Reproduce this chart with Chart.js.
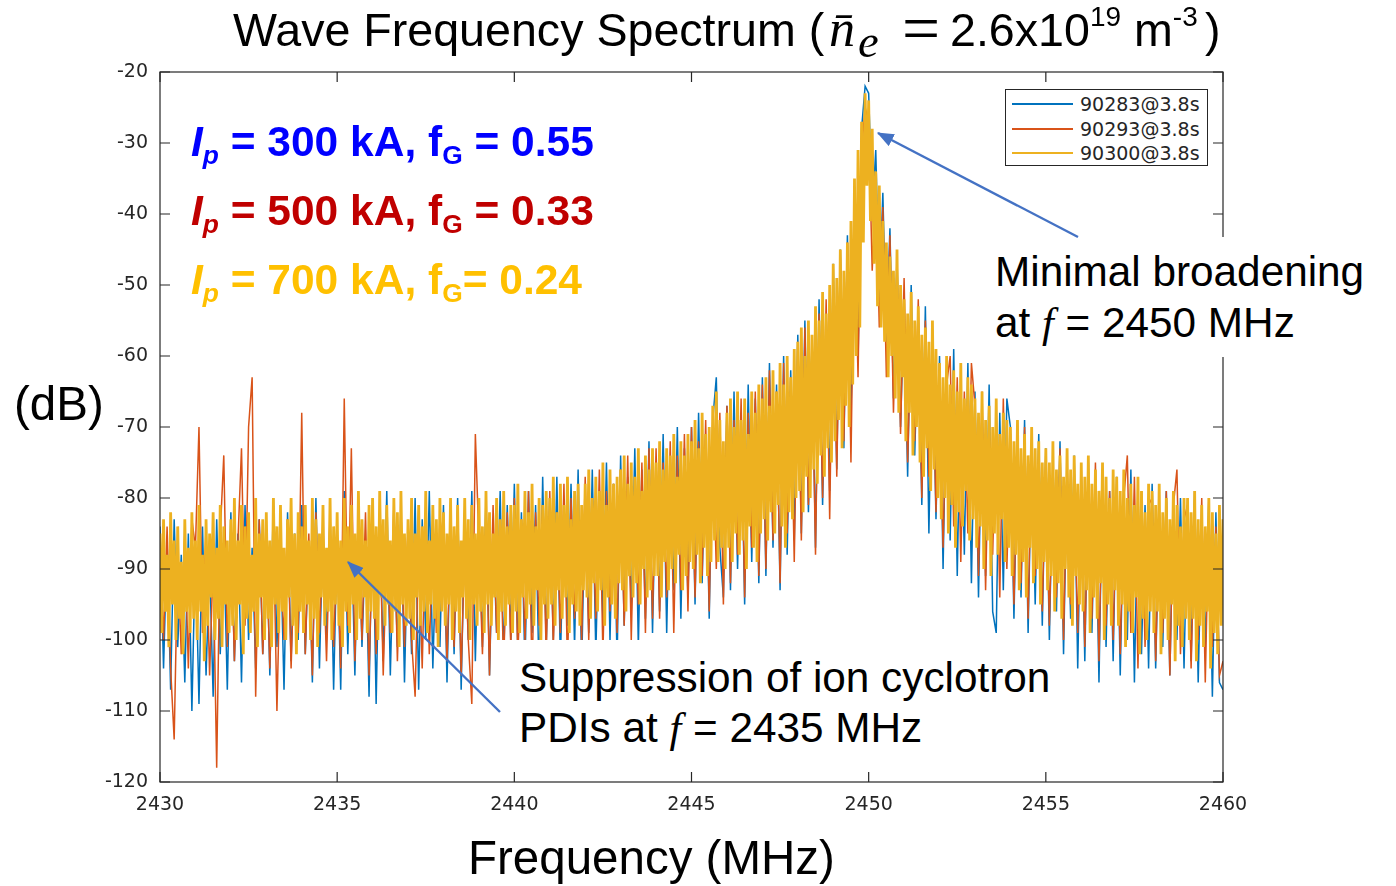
<!DOCTYPE html>
<html><head><meta charset="utf-8">
<script src="https://cdn.jsdelivr.net/npm/chart.js@4.4.1/dist/chart.umd.min.js"></script>
<style>
html,body{margin:0;padding:0;background:#fff;}
#wrap{position:relative;width:1396px;height:886px;overflow:hidden;font-family:"Liberation Sans",Arial,sans-serif;}
#c{position:absolute;left:0;top:0;}
.t{position:absolute;white-space:nowrap;line-height:1;color:#000;}
.t sub,.t sup,.lh0{line-height:0;}
.ttl{font-size:46.6px;top:7px;}
.ttl sup{font-size:0.6em;vertical-align:0.72em;}
.ann{font-size:42.3px;}
.ip{font-size:42.5px;font-weight:bold;}
.ip sub{font-size:0.62em;vertical-align:-0.3em;}
.serif{font-family:"Liberation Serif","DejaVu Serif",serif;font-style:italic;}
.box{position:absolute;background:#fff;}
#legend{position:absolute;left:1005px;top:89px;width:201px;height:75px;border:1px solid #262626;background:#fff;font-family:"DejaVu Sans",sans-serif;font-size:19px;color:#262626;}
.row{position:absolute;left:0;height:24px;width:200px;}
.row .ln{position:absolute;left:6px;top:11px;width:61px;height:2px;}
.row .lb{position:absolute;left:74px;top:1px;line-height:22px;}
</style></head>
<body><div id="wrap">
<canvas id="c" width="1396" height="886"></canvas>

<div class="box" style="left:985px;top:237px;width:390px;height:120px;"></div>
<div class="box" style="left:500px;top:640px;width:562px;height:118px;"></div>

<div class="t ttl" style="left:233px;">Wave Frequency Spectrum (</div>
<div class="t ttl" style="left:829px;"><span class="serif lh0" style="font-size:1.12em;">n̄</span><sub class="serif" style="font-size:1em;vertical-align:-0.24em;margin-left:3px;">e</sub></div>
<div class="t ttl" style="left:902px;"><span class="serif lh0" style="font-style:normal;font-size:1.45em;position:relative;top:5px;">=</span></div>
<div class="t ttl" style="left:950px;">2.6x10<sup>19</sup></div>
<div class="t ttl" style="left:1134px;">m<sup>-3</sup></div>
<div class="t ttl" style="left:1205px;">)</div>

<div class="t ip" style="left:191px;top:121px;color:#0000FF;"><i>I</i><sub><i>p</i></sub> = 300 kA, f<sub>G</sub> = 0.55</div>
<div class="t ip" style="left:191px;top:190px;color:#C00000;"><i>I</i><sub><i>p</i></sub> = 500 kA, f<sub>G</sub> = 0.33</div>
<div class="t ip" style="left:191px;top:259px;color:#FFC000;"><i>I</i><sub><i>p</i></sub> = 700 kA, f<sub>G</sub>= 0.24</div>

<div class="t" style="left:14px;top:380px;font-size:47.5px;">(dB)</div>
<div class="t" style="left:468px;top:834px;font-size:47.5px;">Frequency (MHz)</div>

<div class="t ann" style="left:995px;top:251px;">Minimal broadening</div>
<div class="t ann" style="left:995px;top:302px;">at <span class="serif">f</span> = 2450 MHz</div>
<div class="t ann" style="left:519px;top:657px;">Suppression of ion cyclotron</div>
<div class="t ann" style="left:519px;top:707px;">PDIs at <span class="serif">f</span> = 2435 MHz</div>

<div id="legend"></div>

<svg width="1396" height="886" style="position:absolute;left:0;top:0;pointer-events:none;">
<defs><marker id="ah" markerWidth="7" markerHeight="5.6" refX="6.5" refY="2.8" orient="auto" markerUnits="strokeWidth"><path d="M0,0 L7,2.8 L0,5.6 z" fill="#4472C4"/></marker></defs>
<line x1="1078" y1="237" x2="878" y2="133" stroke="#4472C4" stroke-width="2.4" marker-end="url(#ah)"/>
<line x1="500" y1="712" x2="348" y2="562" stroke="#4472C4" stroke-width="2.4" marker-end="url(#ah)"/>
</svg>
</div>
<script>
// ---- axis ticks ----
const X_TICKS = [2430, 2435, 2440, 2445, 2450, 2455, 2460];
const Y_TICKS = [-120, -110, -100, -90, -80, -70, -60, -50, -40, -30, -20];
// ---- series labels / colours ----
const SERIES_LABELS = ['90283@3.8s', '90293@3.8s', '90300@3.8s'];
const SERIES_COLORS = ['#0072BD', '#D95319', '#EDB120'];
// ---- frequency sampling (MHz) ----
const F_START = 2430;
const STEP_BLUE = 0.1, STEP_ORANGE = 0.1, STEP_YELLOW = 0.05;

// 90283@3.8s (dB), one value per 0.1 MHz from 2430 to 2460
const shot90283 = [
-84,-104,-86,-107,-83,-101,-88,-106,-85,-110,
-87,-109,-84,-105,-89,-108,-83,-102,-86,-107,
-82,-103,-85,-106,-81,-100,-87,-104,-83,-102,
-84,-105,-80,-101,-86,-107,-82,-103,-85,-100,
-81,-102,-86,-106,-80,-104,-84,-100,-82,-107,
-85,-107,-79,-102,-84,-105,-81,-101,-86,-108,
-80,-109,-83,-103,-79,-105,-85,-101,-81,-106,
-84,-102,-80,-107,-83,-100,-79,-104,-86,-101,
-81,-106,-84,-102,-80,-107,-83,-100,-79,-103,
-82,-101,-80,-105,-84,-99,-79,-103,-81,-100,
-78,-102,-82,-104,-79,-99,-81,-106,-77,-101,
-80,-100,-77,-103,-82,-98,-78,-101,-76,-104,
-79,-99,-76,-102,-80,-97,-75,-100,-78,-103,
-74,-98,-77,-96,-73,-101,-76,-97,-72,-99,
-75,-96,-71,-99,-74,-93,-70,-97,-73,-94,
-70,-95,-68,-92,-71,-97,-69,-63,-87,-94,
-67,-93,-65,-90,-68,-95,-64,-89,-66,-92,
-63,-91,-61,-87,-64,-93,-60,-88,-62,-86,
-57,-85,-55,-82,-58,-87,-52,-81,-54,-79,
-47,-76,-45,-73,-43,-69,-38,-61,-28,-22,
-23,-40,-31,-52,-37,-58,-42,-66,-46,-70,
-52,-77,-50,-74,-55,-81,-53,-85,-57,-83,
-60,-90,-62,-86,-59,-91,-64,-88,-61,-92,
-65,-94,-67,-91,-64,-96,-99,-68,-93,-66,
-70,-97,-72,-94,-69,-99,-73,-95,-71,-98,
-73,-100,-75,-96,-72,-102,-76,-97,-74,-104,
-77,-103,-75,-99,-78,-106,-76,-101,-79,-103,
-77,-105,-80,-100,-76,-106,-79,-102,-81,-104,
-78,-104,-82,-101,-79,-105,-81,-100,-80,-104,
-81,-103,-79,-106,-83,-101,-80,-108,-82,-106,
-107
];

// 90293@3.8s (dB), one value per 0.1 MHz from 2430 to 2460
const shot90293 = [
-86,-100,-84,-104,-114,-88,-102,-85,-104,-83,
-87,-70,-99,-84,-105,-89,-118,-85,-74,-101,
-84,-103,-86,-73,-98,-70,-63,-108,-83,-102,
-86,-104,-84,-110,-88,-100,-83,-104,-87,-99,
-68,-102,-85,-105,-82,-99,-87,-103,-84,-101,
-86,-104,-66,-98,-73,-103,-84,-100,-82,-105,
-85,-102,-83,-105,-87,-99,-81,-103,-86,-101,
-84,-100,-108,-86,-104,-82,-102,-85,-99,-83,
-87,-103,-84,-101,-82,-105,-86,-100,-109,-71,
-86,-102,-83,-105,-81,-99,-85,-104,-82,-101,
-80,-103,-83,-100,-79,-105,-82,-98,-81,-102,
-79,-101,-82,-99,-78,-104,-80,-97,-83,-100,
-77,-100,-80,-97,-76,-102,-79,-96,-78,-99,
-76,-98,-74,-100,-78,-95,-75,-99,-73,-97,
-73,-97,-75,-94,-72,-99,-74,-93,-71,-96,
-70,-94,-72,-91,-69,-96,-71,-90,-68,-95,
-67,-92,-69,-88,-66,-94,-68,-87,-65,-91,
-64,-90,-62,-86,-65,-92,-61,-85,-63,-89,
-58,-86,-56,-81,-59,-88,-54,-80,-52,-83,
-49,-77,-46,-72,-44,-75,-40,-63,-31,-25,
-27,-48,-35,-56,-39,-63,-43,-68,-47,-71,
-49,-75,-56,-72,-52,-80,-55,-77,-58,-82,
-62,-87,-64,-60,-84,-63,-89,-65,-85,-61,
-67,-91,-65,-93,-69,-88,-68,-94,-66,-90,
-71,-95,-73,-92,-70,-97,-72,-91,-74,-96,
-74,-98,-76,-94,-73,-100,-75,-95,-77,-99,
-76,-101,-78,-97,-75,-103,-77,-98,-79,-100,
-78,-102,-80,-74,-99,-77,-104,-79,-101,-81,
-80,-103,-82,-99,-79,-105,-81,-76,-102,-83,
-81,-104,-83,-100,-80,-106,-82,-101,-84,-105,
-103
];

// 90300@3.8s (dB), one value per 0.05 MHz from 2430 to 2460
const shot90300 = [
-85,-99,-83,-96,-88,-101,-82,-95,-86,-100,-84,-97,-89,-102,-83,-96,-87,-99,-82,-97,
-86,-100,-81,-96,-88,-103,-83,-98,-85,-94,-82,-100,-87,-97,-81,-101,-84,-95,-86,-99,
-83,-98,-80,-100,-86,-95,-81,-102,-84,-97,-82,-99,-88,-96,-80,-101,-85,-94,-83,-100,
-82,-97,-86,-101,-80,-95,-84,-99,-81,-96,-87,-100,-83,-94,-80,-98,-85,-102,-82,-96,
-84,-99,-81,-95,-86,-100,-80,-97,-83,-101,-85,-94,-81,-98,-87,-96,-80,-100,-84,-95,
-82,-98,-86,-101,-80,-96,-84,-99,-81,-95,-85,-100,-79,-97,-83,-94,-86,-99,-81,-96,
-80,-97,-84,-100,-79,-94,-83,-98,-81,-95,-86,-99,-80,-96,-82,-101,-79,-95,-85,-98,
-83,-97,-80,-100,-85,-94,-81,-98,-84,-96,-79,-99,-86,-95,-81,-97,-83,-101,-80,-96,
-82,-98,-85,-95,-80,-100,-84,-96,-81,-99,-86,-94,-80,-97,-83,-100,-81,-95,-85,-98,
-80,-96,-84,-99,-79,-95,-82,-98,-85,-94,-80,-100,-83,-96,-79,-98,-84,-95,-81,-99,
-81,-96,-78,-99,-83,-94,-79,-97,-82,-95,-78,-98,-84,-93,-80,-100,-81,-95,-79,-97,
-80,-95,-77,-98,-82,-93,-78,-97,-81,-94,-77,-99,-83,-95,-79,-96,-78,-98,-81,-93,
-78,-94,-76,-97,-80,-92,-77,-96,-79,-93,-75,-98,-81,-94,-76,-95,-78,-97,-77,-92,
-76,-93,-74,-96,-78,-91,-75,-94,-77,-92,-73,-95,-79,-90,-74,-94,-76,-93,-73,-91,
-75,-91,-72,-94,-76,-89,-73,-93,-74,-90,-71,-92,-77,-88,-72,-93,-74,-91,-71,-89,
-72,-90,-69,-88,-73,-92,-68,-87,-71,-91,-70,-89,-67,-86,-65,-89,-69,-87,-72,-90,
-68,-87,-66,-89,-70,-85,-65,-88,-69,-86,-66,-90,-71,-84,-65,-87,-68,-89,-64,-85,
-66,-83,-63,-86,-67,-82,-62,-85,-65,-81,-61,-84,-64,-87,-60,-82,-63,-83,-59,-80,
-58,-79,-56,-82,-60,-77,-55,-80,-57,-76,-53,-78,-55,-74,-51,-77,-54,-73,-50,-75,
-47,-72,-49,-69,-45,-73,-48,-67,-44,-70,-41,-64,-35,-60,-31,-56,-27,-44,-23,-36,
-24,-41,-28,-47,-34,-53,-36,-56,-41,-58,-44,-63,-46,-60,-48,-66,-45,-68,-50,-63,
-52,-72,-54,-68,-51,-74,-55,-70,-53,-75,-57,-77,-56,-73,-58,-79,-55,-76,-59,-80,
-61,-83,-63,-80,-60,-85,-64,-81,-62,-87,-65,-82,-61,-84,-66,-79,-63,-86,-64,-83,
-66,-87,-68,-84,-65,-90,-69,-86,-67,-91,-70,-85,-66,-88,-71,-83,-68,-89,-69,-87,
-70,-91,-72,-88,-69,-93,-73,-89,-71,-94,-74,-87,-70,-92,-73,-90,-72,-95,-75,-89,
-73,-93,-75,-91,-72,-96,-76,-92,-74,-97,-77,-90,-73,-94,-76,-98,-74,-91,-78,-95,
-75,-96,-77,-93,-74,-99,-78,-94,-76,-97,-79,-92,-75,-100,-77,-95,-80,-98,-76,-93,
-77,-98,-79,-95,-76,-101,-80,-96,-78,-99,-81,-94,-77,-102,-79,-97,-82,-100,-78,-96,
-79,-99,-81,-96,-78,-102,-82,-97,-80,-100,-83,-95,-79,-103,-81,-98,-84,-101,-80,-97,
-80,-100,-82,-97,-79,-103,-83,-98,-81,-101,-84,-96,-80,-104,-82,-99,-85,-102,-81,-98,
-83
];

function toPoints(vals, step) {
  return vals.map((v, i) => ({ x: +(F_START + i * step).toFixed(3), y: v }));
}

// legend (HTML, MATLAB style)
const leg = document.getElementById('legend');
SERIES_LABELS.forEach((lab, i) => {
  const r = document.createElement('div');
  r.className = 'row';
  r.style.top = (2 + i * 24.5) + 'px';
  r.innerHTML = '<div class="ln" style="background:' + SERIES_COLORS[i] + '"></div><div class="lb">' + lab + '</div>';
  leg.appendChild(r);
});

const AX = '#262626';
const framePlugin = {
  id: 'matlabFrame',
  afterDatasetsDraw(chart) {
    const { ctx, chartArea: a, scales: { x, y } } = chart;
    ctx.save();
    ctx.strokeStyle = AX;
    ctx.lineWidth = 1.2;
    ctx.strokeRect(a.left, a.top, a.right - a.left, a.bottom - a.top);
    ctx.beginPath();
    X_TICKS.forEach(v => {
      const p = x.getPixelForValue(v);
      ctx.moveTo(p, a.bottom); ctx.lineTo(p, a.bottom - 10);
      ctx.moveTo(p, a.top); ctx.lineTo(p, a.top + 10);
    });
    Y_TICKS.forEach(v => {
      const p = y.getPixelForValue(v);
      ctx.moveTo(a.left, p); ctx.lineTo(a.left + 10, p);
      ctx.moveTo(a.right, p); ctx.lineTo(a.right - 10, p);
    });
    ctx.stroke();
    ctx.restore();
  }
};

const tickFont = { family: 'DejaVu Sans', size: 19 };
new Chart(document.getElementById('c'), {
  type: 'line',
  data: {
    datasets: [
      { label: SERIES_LABELS[0], data: toPoints(shot90283, STEP_BLUE), borderColor: SERIES_COLORS[0], borderWidth: 1.5, pointRadius: 0, tension: 0, order: 3 },
      { label: SERIES_LABELS[1], data: toPoints(shot90293, STEP_ORANGE), borderColor: SERIES_COLORS[1], borderWidth: 1.5, pointRadius: 0, tension: 0, order: 2 },
      { label: SERIES_LABELS[2], data: toPoints(shot90300, STEP_YELLOW), borderColor: SERIES_COLORS[2], borderWidth: 2.8, borderJoinStyle: 'bevel', pointRadius: 0, tension: 0, order: 1 }
    ]
  },
  options: {
    responsive: false,
    animation: false,
    events: [],
    layout: { padding: { left: 0, top: 72, right: 173, bottom: 0 } },
    scales: {
      x: {
        type: 'linear', min: 2430, max: 2460,
        afterBuildTicks: s => { s.ticks = X_TICKS.map(v => ({ value: v })); },
        afterFit: s => { s.height = 104; },
        grid: { display: false, drawTicks: false }, border: { display: false },
        ticks: { font: tickFont, color: AX, padding: 12, maxRotation: 0, callback: v => String(v) }
      },
      y: {
        type: 'linear', min: -120, max: -20,
        afterBuildTicks: s => { s.ticks = Y_TICKS.map(v => ({ value: v })); },
        afterFit: s => { s.width = 160; },
        grid: { display: false, drawTicks: false }, border: { display: false },
        ticks: { font: tickFont, color: AX, padding: 12, callback: v => String(v) }
      }
    },
    plugins: { legend: { display: false }, tooltip: { enabled: false }, title: { display: false } }
  },
  plugins: [framePlugin]
});
</script>
</body></html>
